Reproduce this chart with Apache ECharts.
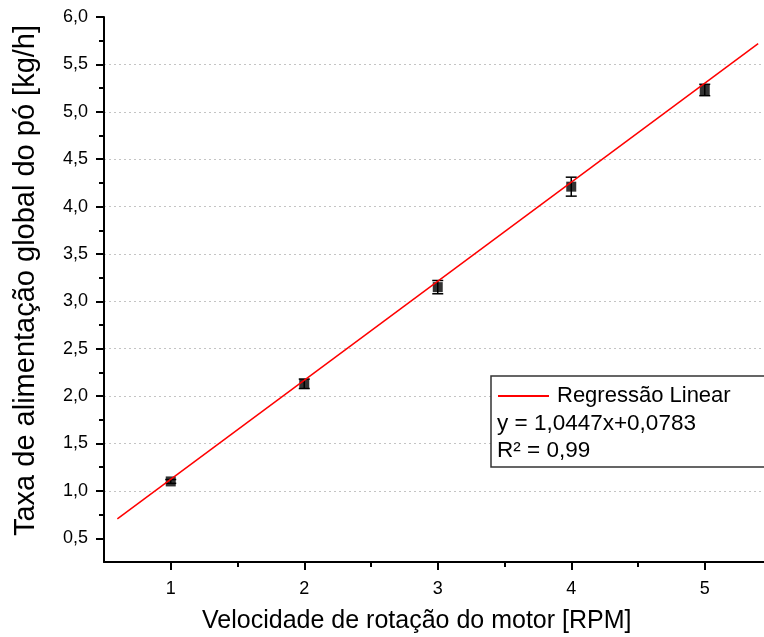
<!DOCTYPE html>
<html>
<head>
<meta charset="utf-8">
<script src="https://cdn.jsdelivr.net/npm/echarts@6/dist/echarts.min.js"></script>
<style>
html,body{margin:0;padding:0;background:#fff;}
#chart{width:764px;height:637px;}
</style>
</head>
<body>
<div id="chart"></div>
<script>
// ---- data ----
const xValues = [1, 2, 3, 4, 5];
const yValues = [1.10, 2.13, 3.15, 4.21, 5.23];
const yErrors = [0.02, 0.05, 0.07, 0.10, 0.06];
const fitLineX = [0.6, 5.4];
const fitLineY = [0.705, 5.72];
const xMajorTicks = [1, 2, 3, 4, 5];
const xMinorTicks = [1.5, 2.5, 3.5, 4.5];
const yMajorTicks = [0.5, 1.0, 1.5, 2.0, 2.5, 3.0, 3.5, 4.0, 4.5, 5.0, 5.5, 6.0];
const yMinorTicks = [0.75, 1.25, 1.75, 2.25, 2.75, 3.25, 3.75, 4.25, 4.75, 5.25, 5.75];
const xTitle = 'Velocidade de rotação do motor [RPM]';
const yTitle = 'Taxa de alimentação global do pó [kg/h]';
const fitName = 'Regressão Linear';
const eqText = 'y = 1,0447x+0,0783';
const r2Text = 'R² = 0,99';

const FONT = 'Liberation Sans, Arial, sans-serif';
const comma = v => v.toFixed(1).replace('.', ',');

const pointData = xValues.map((x, i) => [x, yValues[i]]);
const errData = xValues.map((x, i) => [x, yValues[i], yErrors[i]]);
const lineData = fitLineX.map((x, i) => [x, fitLineY[i]]);

const chart = echarts.init(document.getElementById('chart'));
const option = {
  backgroundColor: '#fff',
  animation: false,
  textStyle: { fontFamily: FONT },
  grid: { left: 104, top: 17, width: 667.5, height: 545, containLabel: false, outerBoundsMode: 'none' },
  legend: {
    left: 498, top: 385, padding: 0,
    itemWidth: 51, itemHeight: 2,
    data: [{ name: fitName, icon: 'rect' }],
    textStyle: { fontSize: 22, color: '#000', fontFamily: FONT, padding: [0, 0, 0, 3] }
  },
  xAxis: [{
    type: 'value', min: 0.5, max: 5.5, position: 'bottom',
    axisLine: { show: true, lineStyle: { color: '#000', width: 2 } },
    axisTick: { show: true, customValues: xMajorTicks, length: 8, lineStyle: { color: '#000', width: 2 } },
    axisLabel: { customValues: xMajorTicks, fontSize: 18, margin: 18, color: '#000', fontFamily: FONT },
    splitLine: { show: false },
    name: xTitle, nameLocation: 'middle', nameGap: 47,
    nameTextStyle: { fontSize: 25, color: '#000', fontFamily: FONT, padding: [0, 42, 0, 0] }
  }, {
    type: 'value', min: 0.5, max: 5.5, position: 'bottom',
    axisLine: { show: false },
    axisTick: { show: true, customValues: xMinorTicks, length: 5, lineStyle: { color: '#000', width: 2 } },
    axisLabel: { show: false },
    splitLine: { show: false }
  }],
  yAxis: [{
    type: 'value', min: 0.25, max: 6.0, position: 'left',
    axisLine: { show: true, lineStyle: { color: '#000', width: 2 } },
    axisTick: { show: true, customValues: yMajorTicks, length: 8, lineStyle: { color: '#000', width: 2 } },
    axisLabel: { customValues: yMajorTicks, fontSize: 18, margin: 16, color: '#000', fontFamily: FONT,
      formatter: v => comma(v) },
    splitLine: { show: true, showMaxLine: false, showMinLine: false,
      lineStyle: { color: '#c4c4c4', width: 1, type: [2, 3] } },
    name: yTitle, nameLocation: 'middle', nameGap: 64,
    nameTextStyle: { fontSize: 29, color: '#000', fontFamily: FONT, padding: [0, 0, 0, 18] }
  }, {
    type: 'value', min: 0.25, max: 6.0, position: 'left',
    axisLine: { show: false },
    axisTick: { show: true, customValues: yMinorTicks, length: 5, lineStyle: { color: '#000', width: 2 } },
    axisLabel: { show: false },
    splitLine: { show: false }
  }],
  graphic: [
    { type: 'rect', shape: { x: 491, y: 376, width: 290, height: 91 },
      style: { fill: '#fff', stroke: '#333', lineWidth: 1.5 }, z: 1 },
    { type: 'text', x: 497, y: 424, z: 5,
      style: { text: eqText, fontSize: 22.5, fill: '#000', fontFamily: FONT, verticalAlign: 'middle' } },
    { type: 'text', x: 497, y: 451, z: 5,
      style: { text: r2Text, fontSize: 22.5, fill: '#000', fontFamily: FONT, verticalAlign: 'middle' } }
  ],
  series: [
    {
      type: 'custom', name: 'err', xAxisIndex: 0, yAxisIndex: 0, z: 3,
      data: errData,
      renderItem: function (params, api) {
        const x = api.value(0), y = api.value(1), e = api.value(2);
        const top = api.coord([x, y + e]);
        const bot = api.coord([x, y - e]);
        const hw = 5.5;
        const st = { stroke: '#000', lineWidth: 1.5 };
        return { type: 'group', children: [
          { type: 'line', shape: { x1: top[0], y1: top[1], x2: bot[0], y2: bot[1] }, style: st },
          { type: 'line', shape: { x1: top[0] - hw, y1: top[1], x2: top[0] + hw, y2: top[1] }, style: st },
          { type: 'line', shape: { x1: bot[0] - hw, y1: bot[1], x2: bot[0] + hw, y2: bot[1] }, style: st }
        ]};
      }
    },
    {
      type: 'scatter', name: 'pontos', xAxisIndex: 0, yAxisIndex: 0, z: 4,
      symbol: 'rect', symbolSize: 10,
      itemStyle: { color: '#000' },
      data: pointData
    },
    {
      type: 'line', name: fitName, xAxisIndex: 0, yAxisIndex: 0, z: 6,
      showSymbol: false, symbol: 'none',
      lineStyle: { color: '#ff0000', width: 1.5 },
      itemStyle: { color: '#ff0000' },
      data: lineData
    }
  ]
};
chart.setOption(option);
</script>
</body>
</html>
